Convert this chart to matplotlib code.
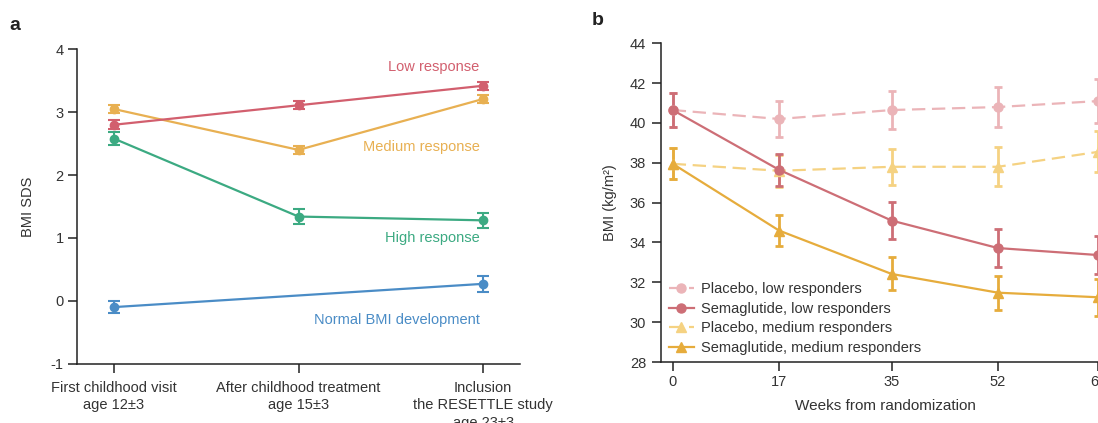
import matplotlib
matplotlib.use('Agg')
import matplotlib.pyplot as mp

mp.rcParams['font.family'] = ['Liberation Sans', 'DejaVu Sans']
mp.rcParams['axes.unicode_minus'] = False

##### PANEL A DATA
visits = ['First childhood visit\nage 12±3',
          'After childhood treatment\nage 15±3',
          'Inclusion\nthe RESETTLE study\nage 23±3']
low_sds = [2.80, 3.11, 3.42]
low_err = [0.07, 0.06, 0.06]
medium_sds = [3.05, 2.40, 3.21]
medium_err = [0.06, 0.06, 0.06]
high_sds = [2.58, 1.34, 1.28]
high_err = [0.10, 0.12, 0.12]
normal_x = [0, 2]
normal_sds = [-0.10, 0.27]
normal_err = [0.10, 0.13]

##### PANEL B DATA
weeks = [0, 17, 35, 52, 68]
placebo_low = [40.65, 40.2, 40.65, 40.8, 41.1]
placebo_low_err = [0.85, 0.9, 0.95, 1.0, 1.1]
sema_low = [40.65, 37.65, 35.1, 33.72, 33.37]
sema_low_err = [0.85, 0.8, 0.93, 0.95, 0.97]
placebo_med = [37.95, 37.6, 37.8, 37.8, 38.55]
placebo_med_err = [0.78, 0.8, 0.9, 0.97, 1.03]
sema_med = [37.95, 34.6, 32.42, 31.48, 31.25]
sema_med_err = [0.78, 0.8, 0.83, 0.86, 0.92]

TXT = '#333333'
SP = '#222222'
FS = 10.5

def style_axes(ax):
    for s in ['top', 'right']:
        ax.spines[s].set_visible(False)
    for s in ['left', 'bottom']:
        ax.spines[s].set_color(SP)
        ax.spines[s].set_linewidth(1.1)
    ax.tick_params(colors=SP, labelcolor=TXT, labelsize=FS, length=6.5, width=1.1)

fig = mp.figure(figsize=(10.98, 4.23), dpi=100)

##### PANEL A
W, H = 1098.0, 423.0
ax = fig.add_axes([77 / W, 1 - 363.7 / H, 443 / W, (363.7 - 49.3) / H])
style_axes(ax)

c_low = '#d25f6e'
c_med = '#e8b052'
c_high = '#3caa82'
c_norm = '#4a8cc6'
kw = dict(fmt='-o', lw=1.6, ms=6, capsize=4, elinewidth=1.5, capthick=1.5)
ax.errorbar(range(3), high_sds, yerr=high_err, color=c_high, **kw)
ax.errorbar(normal_x, normal_sds, yerr=normal_err, color=c_norm, **kw)
ax.errorbar(range(3), medium_sds, yerr=medium_err, color=c_med, **kw)
ax.errorbar(range(3), low_sds, yerr=low_err, color=c_low, **kw)

ax.text(1.98, 3.72, 'Low response', color=c_low, ha='right', va='center', fontsize=FS)
ax.text(1.98, 2.45, 'Medium response', color=c_med, ha='right', va='center', fontsize=FS)
ax.text(1.98, 1.00, 'High response', color=c_high, ha='right', va='center', fontsize=FS)
ax.text(1.98, -0.30, 'Normal BMI development', color=c_norm, ha='right', va='center', fontsize=FS)

ax.set_xlim(-0.2, 2.2)
ax.set_ylim(-1, 4)
ax.set_xticks(range(3))
ax.set_xticklabels(visits)
for t in ax.get_xticklabels():
    t.set_linespacing(1.3)
ax.tick_params(axis='x', pad=6)
ax.tick_params(axis='y', pad=3)
ax.set_ylabel('BMI SDS', fontsize=FS, color=TXT)
ax.yaxis.set_label_coords(-0.095, 0.5)
fig.text(9 / W, 1 - 30.5 / H, 'a', fontsize=14, fontweight='bold', color='#222222')

##### PANEL B
bx = fig.add_axes([660.7 / W, 1 - 362 / H, 448.6 / W, (362 - 43.3) / H])
style_axes(bx)

c_pl = '#ebb4b8'
c_sl = '#cd6e76'
c_pm = '#f5d282'
c_sm = '#e6ac3c'
kb = dict(lw=1.6, ms=6.5, capsize=3, elinewidth=2.0, capthick=2.0)
dash = (0, (6, 3))
h1 = bx.errorbar(weeks, placebo_low, yerr=placebo_low_err, color=c_pl, marker='o', ls=dash, **kb)
h3 = bx.errorbar(weeks, placebo_med, yerr=placebo_med_err, color=c_pm, marker='^', ls=dash, **kb)
h2 = bx.errorbar(weeks, sema_low, yerr=sema_low_err, color=c_sl, marker='o', ls='-', **kb)
h4 = bx.errorbar(weeks, sema_med, yerr=sema_med_err, color=c_sm, marker='^', ls='-', **kb)

bx.set_xlim(-1.92, 69.8)
bx.set_ylim(28, 44)
bx.set_xticks(weeks)
bx.set_yticks(range(28, 45, 2))
bx.tick_params(axis='x', pad=3)
bx.tick_params(axis='y', pad=4)
bx.set_xlabel('Weeks from randomization', fontsize=11, color=TXT, labelpad=7)
bx.set_ylabel('BMI (kg/m²)', fontsize=FS, color=TXT)
bx.yaxis.set_label_coords(-0.098, 0.5)

bx.legend(handles=[h1[0], h2[0], h3[0], h4[0]],
          labels=['Placebo, low responders', 'Semaglutide, low responders',
                  'Placebo, medium responders', 'Semaglutide, medium responders'],
          loc='upper left', bbox_to_anchor=(0.018, 0.25), frameon=False,
          fontsize=FS, handlelength=1.7, handletextpad=0.5, labelspacing=0.38,
          borderpad=0, borderaxespad=0, labelcolor=TXT)
fig.text(592 / W, 1 - 25 / H, 'b', fontsize=14, fontweight='bold', color='#222222')

mp.savefig('out.png', dpi=100)
